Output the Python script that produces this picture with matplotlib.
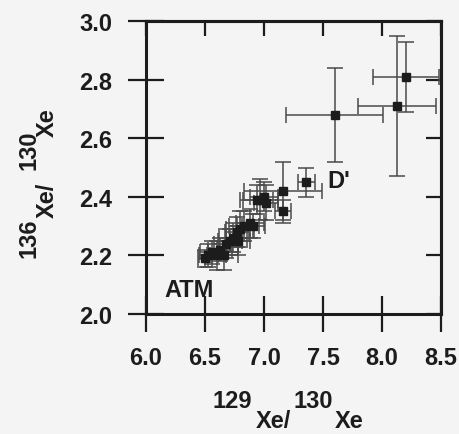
import matplotlib.pyplot as plt

# 129Xe/130Xe vs 136Xe/130Xe
x_vals = [6.50, 6.53, 6.56, 6.60, 6.63, 6.66, 6.68, 6.71, 6.74, 6.77,
          6.80, 6.83, 6.78, 6.88, 6.91, 6.94, 6.97, 7.00, 7.02, 7.16,
          7.16, 7.36, 7.60, 8.13, 8.20]
y_vals = [2.19, 2.20, 2.21, 2.20, 2.22, 2.20, 2.24, 2.25, 2.26, 2.28,
          2.29, 2.30, 2.25, 2.31, 2.30, 2.39, 2.39, 2.40, 2.38, 2.42,
          2.35, 2.45, 2.68, 2.71, 2.81]
x_err = [0.06, 0.08, 0.10, 0.08, 0.10, 0.12, 0.10, 0.10, 0.12, 0.10,
         0.12, 0.13, 0.10, 0.12, 0.10, 0.14, 0.15, 0.12, 0.10, 0.33,
         0.07, 0.07, 0.41, 0.33, 0.28]
y_err = [0.03, 0.04, 0.04, 0.05, 0.04, 0.05, 0.05, 0.04, 0.05, 0.05,
         0.06, 0.05, 0.05, 0.05, 0.04, 0.05, 0.07, 0.05, 0.06, 0.10,
         0.04, 0.05, 0.16, 0.24, 0.12]

x_ticks = [6.0, 6.5, 7.0, 7.5, 8.0, 8.5]
y_ticks = [2.0, 2.2, 2.4, 2.6, 2.8, 3.0]

ink = "#1c1c1c"
bg = "#f4f4f4"
fs = 17

plt.rcParams['font.family'] = ['Liberation Sans', 'DejaVu Sans']

fig = plt.figure(figsize=(4.6, 4.35), dpi=100, facecolor=bg)
ax = fig.add_axes([0.317, 0.276, 0.642, 0.673], facecolor=bg)

ax.errorbar(x_vals, y_vals, xerr=x_err, yerr=y_err, fmt='s', color=ink,
            ecolor="#4a4a4a", elinewidth=1.1, capsize=6, capthick=1.1,
            markersize=6, zorder=3)

ax.text(7.63, 2.457, "D'", fontsize=fs, fontweight='bold', color=ink,
        ha='center', va='center')
ax.text(6.37, 2.085, "ATM", fontsize=fs, fontweight='bold', color=ink,
        ha='center', va='center')

ax.set_xlim(6.0, 8.5)
ax.set_ylim(2.0, 3.0)
ax.set_xticks(x_ticks)
ax.set_yticks(y_ticks)
ax.set_xticklabels([f"{v:.1f}" for v in x_ticks])
ax.set_yticklabels([f"{v:.1f}" for v in y_ticks])

for s in ax.spines.values():
    s.set_linewidth(2.2)
    s.set_color(ink)

ax.tick_params(axis='both', which='major', direction='inout', length=26,
               width=1.6, color=ink, labelsize=fs, labelcolor=ink)
ax.tick_params(axis='x', pad=10)
ax.tick_params(axis='y', pad=11)
for lab in ax.get_xticklabels() + ax.get_yticklabels():
    lab.set_fontweight('bold')

# inward-only ticks on the top and right sides
top = ax.secondary_xaxis('top')
top.set_xticks(x_ticks)
top.tick_params(direction='in', length=11, width=1.6, color=ink, labeltop=False)
top.spines['top'].set_linewidth(2.2)
right = ax.secondary_yaxis('right')
right.set_yticks(y_ticks)
right.tick_params(direction='in', length=11, width=1.6, color=ink, labelright=False)
right.spines['right'].set_linewidth(2.2)

# axis titles with the mass numbers raised, as in the original
lab_kw = dict(fontsize=fs, fontweight='bold', color=ink, ha='center', va='center')
fig.text(0.505, 0.078, "129", **lab_kw)
fig.text(0.680, 0.078, "130", **lab_kw)
fig.text(0.594, 0.030, "Xe/", **lab_kw)
fig.text(0.759, 0.030, "Xe", **lab_kw)

fig.text(0.063, 0.453, "136", rotation=90, **lab_kw)
fig.text(0.063, 0.655, "130", rotation=90, **lab_kw)
fig.text(0.102, 0.540, "Xe/", rotation=90, **lab_kw)
fig.text(0.102, 0.718, "Xe", rotation=90, **lab_kw)

fig.savefig("out.png", dpi=100, facecolor=bg)
